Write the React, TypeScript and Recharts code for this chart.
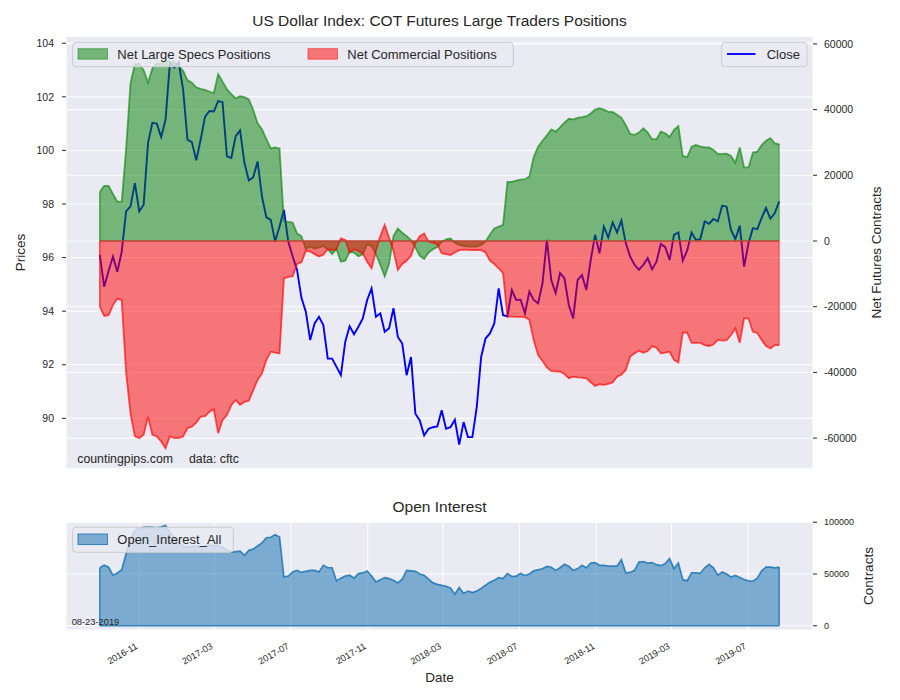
import React from "react";
import {
  ComposedChart,
  AreaChart,
  Area,
  Line,
  XAxis,
  YAxis,
  CartesianGrid,
  ReferenceLine,
} from "recharts";

// weekly COT report dates start on this Tuesday
const firstReport = "2016-08-30";

const closePrices = [
  96.1, 94.91, 95.5, 96.04, 95.47, 96.22, 97.72, 97.91, 98.78, 97.72,
  97.97, 100.28, 101.03, 101.0, 100.5, 101.15, 103.28, 103.09, 103.28, 102.28,
  100.4, 100.31, 99.63, 100.4, 101.25, 101.47, 101.45, 101.84, 101.8, 99.78,
  99.72, 100.53, 100.75, 99.53, 98.88, 99.0, 99.59, 98.28, 97.5, 97.41,
  96.6, 97.16, 97.78, 96.6, 96.04, 95.54, 94.5, 93.98, 92.92, 93.54,
  93.79, 93.48, 92.23, 92.23, 91.92, 91.61, 92.86, 93.44, 93.14, 93.42,
  93.73, 94.42, 94.85, 93.79, 93.92, 93.23, 93.36, 94.11, 93.04, 92.79,
  91.61, 92.29, 90.17, 89.92, 89.36, 89.61, 89.67, 89.7, 90.3, 89.61,
  89.67, 89.95, 89.02, 89.86, 89.3, 89.3, 90.42, 92.29, 92.98, 93.17,
  93.54, 94.85, 93.85, 93.81, 94.79, 94.42, 94.43, 93.92, 94.73, 94.42,
  94.29, 95.04, 96.66, 95.16, 94.67, 95.42, 95.23, 94.23, 93.73, 95.16,
  95.35, 94.79, 95.91, 96.85, 96.16, 97.16, 96.75, 97.31, 96.94, 97.38,
  96.54, 96.04, 95.73, 95.54, 95.73, 95.98, 95.56, 95.85, 96.51, 96.39,
  95.91, 96.85, 96.94, 95.89, 96.26, 96.94, 96.66, 96.69, 97.35, 97.26,
  97.44, 97.35, 97.94, 97.9, 97.03, 96.69, 97.19, 95.66, 96.54, 97.1,
  97.06, 97.48, 97.85, 97.45, 97.66, 98.1,
];

const netLargeSpecs = [
  15000, 16800, 16800, 14300, 12000, 12000, 28000, 48000, 53900, 53900,
  52000, 48200, 52600, 54000, 54000, 55000, 54500, 54500, 53300, 51800,
  49000, 48200, 46800, 46300, 46000, 45500, 45000, 50800, 48500, 46200,
  44700, 43400, 44100, 43800, 43100, 39900, 35800, 34000, 31000, 28200,
  28500, 28200, 6000, 5800, 5600, 2300, 1500, -2500, -1700, -2300,
  -2000, -1500, -2500, -4000, -2500, -6300, -6000, -3300, -3500, -4700,
  -4000, -1000, -1500, -4000, -7300, -10800, -7000, 1500, 3800, 2500,
  1500, 300, -2000, -4500, -5500, -3500, -2500, -1800, -300, 500,
  800, -500, -1200, -1500, -1700, -1700, -1700, -1200, -200, 2000,
  3800, 4400, 4900, 18000, 18000, 18400, 18700, 18800, 19600, 25600,
  28700, 30500, 32200, 34000, 33300, 34600, 36000, 37200, 37000, 37500,
  37700, 38000, 38800, 40000, 40400, 40000, 39300, 39300, 38400, 37500,
  35300, 32600, 32300, 33000, 34300, 33000, 31000, 31000, 33300, 32800,
  31700, 33800, 35000, 25900, 25500, 28700, 29200, 28800, 28500, 28500,
  27700, 26500, 26500, 26600, 25900, 23800, 28500, 22400, 22400, 26900,
  27200, 29200, 30500, 31300, 29700, 29500,
];

const netCommercial = [
  -20000, -22800, -22600, -19500, -17500, -18000, -40000, -52500, -59400, -60000,
  -59000, -53500, -59000, -59500, -61000, -63100, -59400, -60000, -60000, -59500,
  -57000, -56500, -55300, -53500, -53300, -52000, -51200, -58500, -54500, -53000,
  -50000, -48400, -49900, -49000, -48600, -45400, -42300, -40300, -36200, -33700,
  -34000, -34200, -11400, -10900, -10800, -7000, -6500, -3000, -3200, -4000,
  -4700, -4200, -2500, -2800, -2500, 800, 300, -3500, -2500, -3000,
  -3800, -6300, -8300, -3000, 1500, 4900, 1000, -3000, -8800, -7000,
  -6000, -4500, -700, 1500, 2300, -200, -500, -1000, -3700, -4000,
  -4300, -3500, -2800, -2600, -2700, -2800, -2700, -2800, -3500, -6000,
  -7000, -8300, -9800, -23000, -23000, -23100, -23100, -23200, -24000, -30200,
  -34700, -36500, -38500, -39600, -39700, -39800, -40500, -41800, -41300, -41500,
  -41600, -41800, -43000, -44100, -43600, -43800, -43500, -43100, -41300, -40700,
  -39300, -35200, -34200, -33400, -34000, -33500, -32000, -32500, -34200, -34000,
  -33700, -36200, -37000, -27900, -27900, -31000, -31000, -31000, -31700, -32000,
  -31500, -30100, -30300, -30200, -28600, -26600, -31000, -23500, -23600, -27600,
  -28000, -30100, -32000, -32700, -31700, -31700,
];

const openInterest = [
  56000, 58400, 56500, 48800, 51000, 54200, 69600, 84000, 92000, 94000,
  95000, 95200, 95000, 94500, 95500, 96800, 90000, 85000, 80000, 77000,
  76000, 76500, 77000, 76000, 77000, 78000, 77500, 77600, 76000, 73000,
  71200, 71500, 72000, 68000, 72800, 74000, 77000, 80000, 85000, 85500,
  88000, 85600, 47100, 48000, 51900, 53500, 51500, 52500, 53500, 53500,
  52000, 58400, 56000, 56000, 43300, 46000, 48000, 48800, 46000, 50400,
  51000, 52900, 48000, 42300, 44500, 46500, 45500, 44000, 41400, 45000,
  53500, 53000, 52500, 50000, 48700, 45000, 41400, 40000, 39000, 38200,
  36500, 30500, 36900, 31200, 33500, 32000, 33500, 36000, 39100, 42000,
  44000, 46500, 45500, 50400, 47500, 48000, 50400, 48500, 50000, 53000,
  54000, 55000, 57400, 56500, 53500, 56000, 59300, 57500, 53500, 55000,
  58500, 56000, 60500, 61000, 58400, 58400, 57600, 57500, 57500, 63800,
  51000, 51500, 53500, 61500, 62000, 60500, 61000, 59000, 58000, 60000,
  64800, 55200, 60500, 44600, 43300, 51000, 51000, 50500, 56000, 59300,
  56000, 48800, 51900, 50000, 47100, 48500, 46500, 44600, 43300, 43000,
  46000, 53000, 56700, 56700, 56000, 56700,
];

const monthTicks = [
  "2016-11", "2017-03", "2017-07", "2017-11", "2018-03",
  "2018-07", "2018-11", "2019-03", "2019-07",
];
const priceTicks = [90, 92, 94, 96, 98, 100, 102, 104];
const netTicks = [-60000, -40000, -20000, 0, 20000, 40000, 60000];
const oiTicks = [0, 50000, 100000];

const DAY = 24 * 3600 * 1000;
const t0 = Date.parse(firstReport + "T00:00:00Z");
const dates = closePrices.map((_, i) => t0 + i * 7 * DAY);
const lastDate = dates[dates.length - 1];
const tickTimes = monthTicks.map((s) => Date.parse(s + "-01T00:00:00Z"));
const xDomain = [t0 - 54 * DAY, lastDate + 54 * DAY];

const cotRows = dates.map((t, i) => ({
  t,
  close: closePrices[i],
  specs: netLargeSpecs[i],
  comm: netCommercial[i],
}));
const oiRows = dates.map((t, i) => ({ t, oi: openInterest[i] }));

const FONT = '"Liberation Sans", Arial, "DejaVu Sans", sans-serif';
const INK = "#262626";
const BG = "#EAEAF2";
const last = dates.length - 1;

const DateTick = (props: any) => {
  const { x, y, payload } = props;
  const d = new Date(payload.value);
  const label = `${d.getUTCFullYear()}-${String(d.getUTCMonth() + 1).padStart(2, "0")}`;
  const ax = x - 1;
  const ay = y + 18;
  return (
    <text x={ax} y={ay} transform={`rotate(-30, ${ax}, ${ay})`} textAnchor="end" fontSize={9.2} fill={INK}>
      {label}
    </text>
  );
};

const fmtInt = (v: number) => String(v);

const App = () => {
  return (
    <div style={{ position: "absolute", left: 0, top: 0, width: 900, height: 700, background: "#fff", fontFamily: FONT }}>
      <div style={{ position: "absolute", left: 0, top: 0 }}>
        <ComposedChart width={900} height={480} data={cotRows} margin={{ top: 36, right: 27, bottom: 11, left: 16 }}>
          <CartesianGrid yAxisId="left" fill={BG} stroke="#ffffff" strokeWidth={1} />
          <CartesianGrid yAxisId="right" vertical={false} stroke="#ffffff" strokeWidth={1} />
          <XAxis
            dataKey="t"
            type="number"
            domain={xDomain}
            ticks={tickTimes}
            allowDataOverflow
            height={0}
            tick={false}
            axisLine={false}
            tickLine={false}
          />
          <YAxis
            yAxisId="left"
            domain={[88.11, 104.27]}
            ticks={priceTicks}
            allowDataOverflow
            interval={0}
            width={50}
            axisLine={false}
            tickSize={4}
            tickMargin={8}
            tickLine={{ stroke: INK }}
            tick={{ fontSize: 10.5, fill: INK }}
          />
          <YAxis
            yAxisId="right"
            orientation="right"
            domain={[-69400, 62400]}
            ticks={netTicks}
            allowDataOverflow
            interval={0}
            width={60}
            axisLine={false}
            tickSize={4}
            tickMargin={7}
            tickLine={{ stroke: INK }}
            tick={{ fontSize: 10.5, fill: INK }}
            tickFormatter={fmtInt}
          />
          <Line
            yAxisId="left"
            dataKey="close"
            type="linear"
            stroke="#0000ff"
            strokeWidth={1.9}
            dot={false}
            activeDot={false}
            isAnimationActive={false}
            zIndex={50}
          />
          <Area
            yAxisId="right"
            dataKey="specs"
            type="linear"
            baseValue={0}
            fill="#008000"
            fillOpacity={0.5}
            stroke="#008000"
            strokeOpacity={0.6}
            strokeWidth={1.8}
            dot={false}
            activeDot={false}
            isAnimationActive={false}
          />
          <Area
            yAxisId="right"
            dataKey="comm"
            type="linear"
            baseValue={0}
            fill="#ff0000"
            fillOpacity={0.5}
            stroke="#ff0000"
            strokeOpacity={0.65}
            strokeWidth={1.8}
            dot={false}
            activeDot={false}
            isAnimationActive={false}
          />
          <ReferenceLine
            yAxisId="right"
            segment={[{ x: dates[0], y: 0 }, { x: lastDate, y: 0 }]}
            stroke="#b8432f"
            strokeWidth={1.6}
          />
          <ReferenceLine
            yAxisId="right"
            segment={[{ x: dates[0], y: 0 }, { x: dates[0], y: netLargeSpecs[0] }]}
            stroke="#008000"
            strokeOpacity={0.6}
            strokeWidth={1.5}
          />
          <ReferenceLine
            yAxisId="right"
            segment={[{ x: dates[0], y: 0 }, { x: dates[0], y: netCommercial[0] }]}
            stroke="#ff0000"
            strokeOpacity={0.65}
            strokeWidth={1.5}
          />
          <ReferenceLine
            yAxisId="right"
            segment={[{ x: lastDate, y: 0 }, { x: lastDate, y: netLargeSpecs[last] }]}
            stroke="#008000"
            strokeOpacity={0.5}
            strokeWidth={1.2}
          />
          <ReferenceLine
            yAxisId="right"
            segment={[{ x: lastDate, y: 0 }, { x: lastDate, y: netCommercial[last] }]}
            stroke="#ff0000"
            strokeOpacity={0.5}
            strokeWidth={1.2}
          />
        </ComposedChart>
      </div>

      <div style={{ position: "absolute", left: 0, top: 480 }}>
        <AreaChart width={900} height={220} data={oiRows} margin={{ top: 42, right: 27, bottom: 20, left: 66 }}>
          <CartesianGrid fill={BG} stroke="#ffffff" strokeWidth={1} />
          <XAxis
            dataKey="t"
            type="number"
            domain={xDomain}
            ticks={tickTimes}
            allowDataOverflow
            interval={0}
            height={50}
            axisLine={false}
            tickLine={false}
            tickSize={0}
            tickMargin={0}
            tick={<DateTick />}
          />
          <YAxis
            orientation="right"
            domain={[-4100, 100200]}
            ticks={oiTicks}
            allowDataOverflow
            interval={0}
            width={60}
            axisLine={false}
            tickSize={4}
            tickMargin={7}
            tickLine={{ stroke: INK }}
            tick={{ fontSize: 9, fill: INK }}
            tickFormatter={fmtInt}
          />
          <Area
            dataKey="oi"
            type="linear"
            baseValue={0}
            fill="#1f77b4"
            fillOpacity={0.55}
            stroke="#1f77b4"
            strokeOpacity={0.85}
            strokeWidth={1.7}
            dot={false}
            activeDot={false}
            isAnimationActive={false}
          />
          <ReferenceLine
            segment={[{ x: dates[0], y: 0 }, { x: lastDate, y: 0 }]}
            stroke="#1f77b4"
            strokeOpacity={0.85}
            strokeWidth={1.5}
          />
          <ReferenceLine
            segment={[{ x: dates[0], y: 0 }, { x: dates[0], y: openInterest[0] }]}
            stroke="#1f77b4"
            strokeOpacity={0.85}
            strokeWidth={1.5}
          />
          <ReferenceLine
            segment={[{ x: lastDate, y: 0 }, { x: lastDate, y: openInterest[last] }]}
            stroke="#1f77b4"
            strokeOpacity={0.85}
            strokeWidth={1.5}
          />
        </AreaChart>
      </div>

      <svg width={900} height={700} style={{ position: "absolute", left: 0, top: 0, pointerEvents: "none" }}>
        <g fill={INK} fontFamily={FONT}>
          <text x={439.5} y={26} fontSize={15.5} textAnchor="middle">
            US Dollar Index: COT Futures Large Traders Positions
          </text>
          <text x={439.5} y={512} fontSize={15.5} textAnchor="middle">
            Open Interest
          </text>
          <text x={439.5} y={682} fontSize={13.5} textAnchor="middle">
            Date
          </text>
          <text transform="translate(25, 252.5) rotate(-90)" fontSize={13.5} textAnchor="middle">
            Prices
          </text>
          <text transform="translate(881, 252.5) rotate(-90)" fontSize={13.5} textAnchor="middle">
            Net Futures Contracts
          </text>
          <text transform="translate(873, 576) rotate(-90)" fontSize={13.5} textAnchor="middle">
            Contracts
          </text>
          <text x={77.3} y={463} fontSize={12.3}>
            countingpips.com
          </text>
          <text x={189} y={463} fontSize={12.3}>
            data: cftc
          </text>
          <text x={71.7} y={625} fontSize={9.3}>
            08-23-2019
          </text>
        </g>

        <g fontFamily={FONT} fontSize={13} fill={INK}>
          <rect x={72.7} y={42.7} width={440.6} height={24} rx={3} fill={BG} fillOpacity={0.8} stroke="#cccccc" />
          <rect x={78} y={48.7} width={29.5} height={10.5} fill="#008000" fillOpacity={0.5} stroke="#008000" strokeOpacity={0.5} />
          <text x={117.3} y={59}>Net Large Specs Positions</text>
          <rect x={308} y={48.7} width={29.5} height={10.5} fill="#ff0000" fillOpacity={0.5} stroke="#ff0000" strokeOpacity={0.5} />
          <text x={347.3} y={59}>Net Commercial Positions</text>

          <rect x={721.7} y={42.7} width={85.3} height={24} rx={3} fill={BG} fillOpacity={0.8} stroke="#cccccc" />
          <line x1={727} y1={54} x2={755.5} y2={54} stroke="#0000ff" strokeWidth={1.9} />
          <text x={766.7} y={59}>Close</text>

          <rect x={72.7} y={527.3} width={160.6} height={25} rx={3} fill={BG} fillOpacity={0.8} stroke="#cccccc" />
          <rect x={78} y={534} width={29.5} height={10.5} fill="#1f77b4" fillOpacity={0.55} stroke="#1f77b4" strokeOpacity={0.85} />
          <text x={117.3} y={544.3}>Open_Interest_All</text>
        </g>
      </svg>
    </div>
  );
};

export default App;
